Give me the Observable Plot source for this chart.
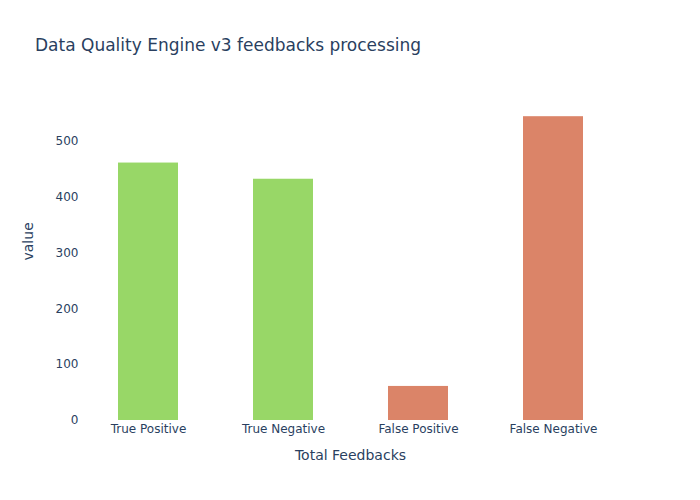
<!DOCTYPE html>
<html>
<head>
<meta charset="utf-8">
<script src="https://cdn.jsdelivr.net/npm/d3@7"></script>
<script src="https://cdn.jsdelivr.net/npm/@observablehq/plot@0.6"></script>
<style>
  html, body { margin: 0; padding: 0; background: #fff; }
  #wrap { position: relative; width: 700px; height: 500px; font-family: "DejaVu Sans", Verdana, sans-serif; }
  #title { position: absolute; left: 35px; top: 35px; font-size: 17px; color: #2a3f5f; white-space: nowrap; z-index: 2; }
  #wrap svg { position: absolute; left: 0; top: 0; z-index: 1; }
</style>
</head>
<body>
<div id="wrap">
  <div id="title">Data Quality Engine v3 feedbacks processing</div>
</div>
<script>
const categories = ["True Positive", "True Negative", "False Positive", "False Negative"];
const values = [461, 432, 61, 544];
const kinds = ["true", "true", "false", "false"];
const yTicks = [0, 100, 200, 300, 400, 500];
const colorDomain = ["true", "false"];
const colorRange = ["#98d767", "#db8468"];

const data = categories.map((c, i) => ({category: c, value: values[i], kind: kinds[i]}));

const chart = Plot.plot({
  width: 700,
  height: 500,
  marginLeft: 80,
  marginRight: 80,
  marginTop: 100,
  marginBottom: 80,
  style: {fontFamily: '"DejaVu Sans", Verdana, sans-serif', fontSize: "12px", color: "#2a3f5f", background: "white"},
  x: {domain: categories, padding: 0.556, paddingOuter: 0.278, align: 0.5, label: null},
  y: {domain: [0, 573], label: null},
  color: {domain: colorDomain, range: colorRange},
  marks: [
    Plot.barY(data, {x: "category", y: "value", fill: "kind"}),
    Plot.axisX({tickSize: 0, tickPadding: 4, fontSize: 12, fill: "#2a3f5f", label: null}),
    Plot.axisY({ticks: yTicks, tickSize: 0, tickPadding: 2, fontSize: 12, fill: "#2a3f5f", label: null}),
    Plot.text(["Total Feedbacks"], {frameAnchor: "bottom", dy: 39, fontSize: 14, fill: "#2a3f5f"}),
    Plot.text(["value"], {frameAnchor: "left", dx: -52, rotate: -90, fontSize: 14, fill: "#2a3f5f"})
  ]
});
document.getElementById("wrap").appendChild(chart);
</script>
</body>
</html>
